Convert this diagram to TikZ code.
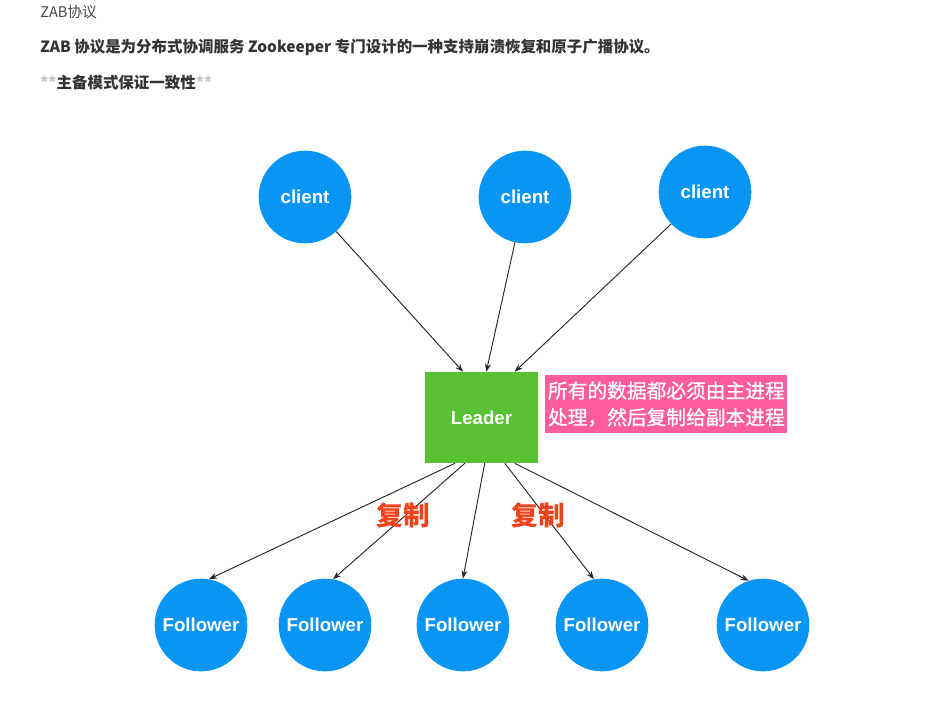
\documentclass[tikz,border=0pt]{standalone}
\usepackage{fontspec}
\setsansfont{Liberation Sans}
\newfontfamily\cjk{Noto Sans CJK SC}
\newfontfamily\cjkmedium[FakeBold=0.8]{Noto Sans CJK SC}
\usetikzlibrary{arrows.meta}

\begin{document}
\begin{tikzpicture}[x=0.75pt, y=-0.75pt,
    roundNode/.style={circle, fill=nodeBlue, minimum size=69.5pt, inner sep=0pt,
        text=white, font=\sffamily\bfseries\fontsize{14}{16}\selectfont},
    leaderNode/.style={rectangle, fill=leaderGreen, minimum width=84.75pt,
        minimum height=68.25pt, inner sep=0pt, text=white,
        font=\sffamily\bfseries\fontsize{14}{16}\selectfont},
    noteNode/.style={rectangle, fill=notePink, inner xsep=2pt, inner ysep=4.6pt,
        text=white, align=left, font=\cjkmedium\fontsize{14.8}{20}\selectfont},
    copyLabel/.style={text=copyRed, font=\cjk\bfseries\fontsize{20}{24}\selectfont},
    flow/.style={-{Stealth[length=6pt,width=4.5pt]}, line width=0.7pt, draw=lineColour}]

    \definecolor{nodeBlue}{HTML}{0895F5}
    \definecolor{leaderGreen}{HTML}{58C134}
    \definecolor{notePink}{HTML}{FF5C9D}
    \definecolor{copyRed}{HTML}{F2421C}
    \definecolor{lineColour}{HTML}{262626}
    \definecolor{headText}{HTML}{333333}
    \definecolor{starGrey}{HTML}{C4C4C4}

    \useasboundingbox (0,0) rectangle (938,701);

    % Header text
    \node[anchor=west, inner sep=0pt, text=headText!90, font=\cjk\fontsize{11}{13}\selectfont]
        (title) at (40,12) {ZAB协议};
    \node[anchor=west, inner sep=0pt, text=headText, font=\cjk\bfseries\fontsize{11.6}{14}\selectfont]
        (intro) at (40,47) {ZAB 协议是为分布式协调服务 Zookeeper 专门设计的一种支持崩溃恢复和原子广播协议。};
    \node[anchor=west, inner sep=0pt, text=headText, font=\cjk\bfseries\fontsize{11.6}{14}\selectfont]
        (mode) at (40,83) {\textcolor{starGrey}{**}主备模式保证一致性\textcolor{starGrey}{**}};

    % Clients
    \node[roundNode] (client1) at (305,197) {client};
    \node[roundNode] (client2) at (525,197) {client};
    \node[roundNode] (client3) at (705,192) {client};

    % Leader and its note
    \node[leaderNode] (leader) at (481.5,417.5) {Leader};
    \node[noteNode, anchor=north west] (note) at (545,375)
        {所有的数据都必须由主进程\\处理，然后复制给副本进程};

    % Followers
    \node[roundNode] (follower1) at (201,625) {Follower};
    \node[roundNode] (follower2) at (325,625) {Follower};
    \node[roundNode] (follower3) at (463,625) {Follower};
    \node[roundNode] (follower4) at (602,625) {Follower};
    \node[roundNode] (follower5) at (763,625) {Follower};

    % Requests from clients to leader
    \draw[flow] (client1) -- (leader.112);
    \draw[flow] (client2) -- (leader.84);
    \draw[flow] (client3) -- (leader.54);

    % Replication from leader to followers
    \draw[flow] (leader.240) -- (follower1.80);
    \draw[flow] (leader.250) -- (follower2.80);
    \draw[flow] (leader.274) -- (follower3.north);
    \draw[flow] (leader.297) -- (follower4.100);
    \draw[flow] (leader.306) -- (follower5.108);

    \node[copyLabel] (copyA) at (403,515) {复制};
    \node[copyLabel] (copyB) at (538,515) {复制};

\end{tikzpicture}
\end{document}
